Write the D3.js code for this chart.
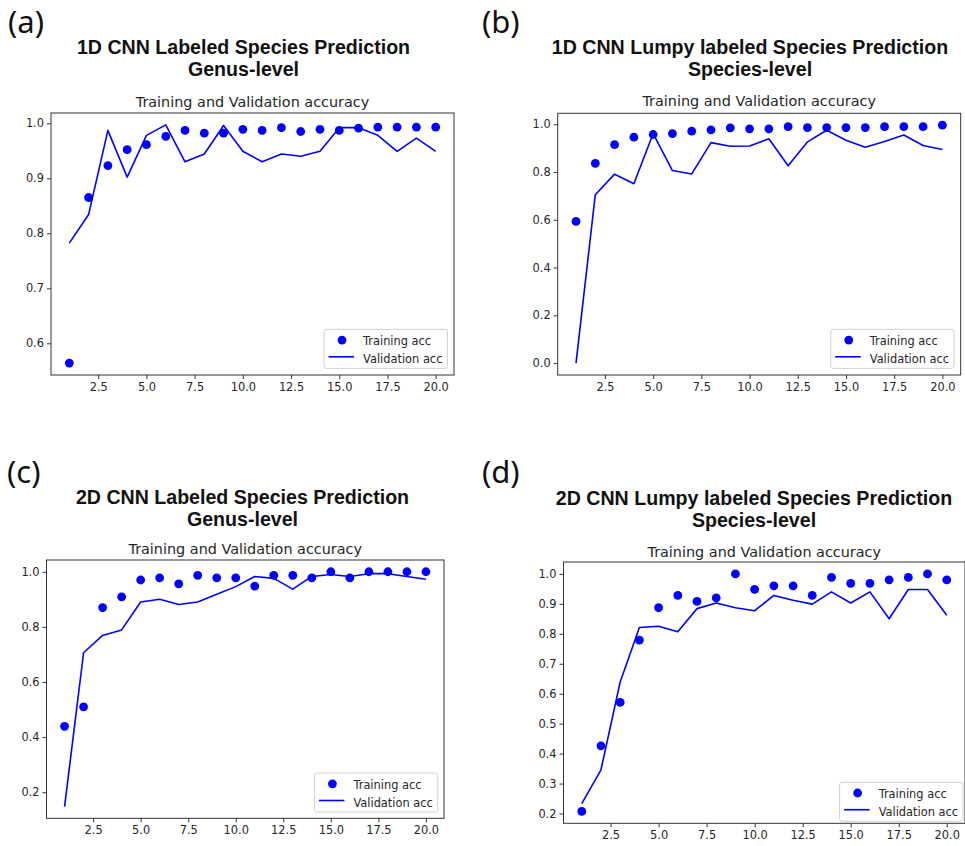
<!DOCTYPE html>
<html>
<head>
<meta charset="utf-8">
<script src="https://cdn.jsdelivr.net/npm/d3@7"></script>
<style>
	body { margin: 0; background: #fff; }
	svg text { font-family: "DejaVu Sans", sans-serif; }
	.axis text { font-size: 11.4px; fill: #262626; }
	.axis line { stroke: #333; }
	.title { font-family: "Liberation Sans", sans-serif !important; font-weight: bold; font-size: 19.6px; fill: #111; }
	.panel-label { font-family: "Noto Sans", sans-serif !important; font-size: 31px; fill: #111; }
</style>
</head>
<body>
<div id="chart-area"></div>
<script>

// Data
var epochs = [1, 2, 3, 4, 5, 6, 7, 8, 9, 10, 11, 12, 13, 14, 15, 16, 17, 18, 19, 20];

var trainA = [0.564, 0.865, 0.923, 0.952, 0.961, 0.976, 0.987, 0.982, 0.982, 0.989,
	0.987, 0.992, 0.985, 0.989, 0.987, 0.991, 0.993, 0.993, 0.993, 0.993];
var valA = [0.782, 0.834, 0.987, 0.902, 0.978, 0.997, 0.930, 0.944, 0.996, 0.949,
	0.930, 0.944, 0.940, 0.949, 0.992, 0.992, 0.978, 0.949, 0.973, 0.949];

var trainB = [0.593, 0.836, 0.915, 0.946, 0.957, 0.961, 0.971, 0.976, 0.985, 0.981,
	0.981, 0.990, 0.986, 0.986, 0.986, 0.986, 0.990, 0.990, 0.990, 0.996];
var valB = [0.0, 0.705, 0.791, 0.751, 0.961, 0.806, 0.792, 0.923, 0.908, 0.909,
	0.939, 0.826, 0.926, 0.975, 0.933, 0.904, 0.928, 0.955, 0.911, 0.894];

var trainC = [0.439, 0.510, 0.870, 0.909, 0.970, 0.978, 0.956, 0.987, 0.978, 0.978,
	0.948, 0.987, 0.987, 0.978, 1.0, 0.978, 1.0, 1.0, 1.0, 1.0];
var valC = [0.148, 0.706, 0.769, 0.789, 0.890, 0.900, 0.881, 0.890, 0.918, 0.946,
	0.983, 0.976, 0.937, 0.983, 0.990, 0.983, 0.993, 0.993, 0.983, 0.973];

var trainD = [0.207, 0.426, 0.571, 0.779, 0.887, 0.928, 0.908, 0.920, 1.0, 0.948,
	0.960, 0.960, 0.928, 0.988, 0.968, 0.968, 0.980, 0.988, 1.0, 0.980];
var valD = [0.233, 0.346, 0.639, 0.821, 0.825, 0.807, 0.884, 0.903, 0.887, 0.877,
	0.928, 0.912, 0.899, 0.940, 0.903, 0.940, 0.850, 0.948, 0.948, 0.862];

var xTicks = [2.5, 5, 7.5, 10, 12.5, 15, 17.5, 20];
var yTicksA = [0.6, 0.7, 0.8, 0.9, 1.0];
var yTicksB = [0.0, 0.2, 0.4, 0.6, 0.8, 1.0];
var yTicksC = [0.2, 0.4, 0.6, 0.8, 1.0];
var yTicksD = [0.2, 0.3, 0.4, 0.5, 0.6, 0.7, 0.8, 0.9, 1.0];

var panelLabels = ["(a)", "(b)", "(c)", "(d)"];
var titleLines = [
	["1D CNN Labeled Species Prediction", "Genus-level"],
	["1D CNN Lumpy labeled Species Prediction", "Species-level"],
	["2D CNN Labeled Species Prediction", "Genus-level"],
	["2D CNN Lumpy labeled Species Prediction", "Species-level"]
];
var subTitle = "Training and Validation accuracy";
var legendLabels = ["Training acc", "Validation acc"];


var svg = d3.select("#chart-area").append("svg")
	.attr("width", 965)
	.attr("height", 846);

// layout of each panel (pixel boxes of the axes)
var panels = [
	{train: trainA, val: valA, yTicks: yTicksA, box: {l: 51, r: 454, t: 113, b: 375},
		labelX: 8, labelY: 33, titleX: 243.5, titleY: 54, subY: 107.3, inset: 6.6},
	{train: trainB, val: valB, yTicks: yTicksB, box: {l: 557.7, r: 960.7, t: 113.3, b: 375},
		labelX: 482, labelY: 33, titleX: 750, titleY: 54, subY: 105.7, inset: 6.6},
	{train: trainC, val: valC, yTicks: yTicksC, box: {l: 46.5, r: 444, t: 560, b: 818.3},
		labelX: 7, labelY: 483, titleX: 242.5, titleY: 504, subY: 554.3, inset: 6.2},
	{train: trainD, val: valD, yTicks: yTicksD, box: {l: 563.5, r: 965, t: 562, b: 823.3},
		labelX: 482, labelY: 483, titleX: 754, titleY: 505, subY: 556.7, inset: 2}
];

panels.forEach(function(p, i) {
	drawPanel(p, i);
});

function drawPanel(p, i) {
	var g = svg.append("g");
	var box = p.box;

	// matplotlib style 5% margins
	var xMin = d3.min(epochs), xMax = d3.max(epochs);
	var xPad = (xMax - xMin) * 0.05;
	var all = p.train.concat(p.val);
	var yMin = d3.min(all), yMax = d3.max(all);
	var yPad = (yMax - yMin) * 0.05;

	var x = d3.scaleLinear()
		.domain([xMin - xPad, xMax + xPad])
		.range([box.l, box.r]);

	var y = d3.scaleLinear()
		.domain([yMin - yPad, yMax + yPad])
		.range([box.b, box.t]);

	// panel letter
	g.append("text")
		.attr("class", "panel-label")
		.attr("x", p.labelX)
		.attr("y", p.labelY)
		.text(panelLabels[i]);

	// bold two-line title
	titleLines[i].forEach(function(line, k) {
		g.append("text")
			.attr("class", "title")
			.attr("x", p.titleX)
			.attr("y", p.titleY + k * 22)
			.attr("text-anchor", "middle")
			.text(line);
	});

	g.append("text")
		.attr("x", (box.l + box.r) / 2)
		.attr("y", p.subY)
		.attr("text-anchor", "middle")
		.style("font-size", "14.4px")
		.style("fill", "#262626")
		.text(subTitle);

	var xAxis = d3.axisBottom(x)
		.tickValues(xTicks)
		.tickFormat(d3.format(".1f"))
		.tickSize(4)
		.tickPadding(4);

	var yAxis = d3.axisLeft(y)
		.tickValues(p.yTicks)
		.tickFormat(d3.format(".1f"))
		.tickSize(4)
		.tickPadding(3);

	g.append("g")
		.attr("class", "axis x-axis")
		.attr("transform", "translate(0," + box.b + ")")
		.call(xAxis)
		.call(function(s) { s.select(".domain").remove(); });

	g.append("g")
		.attr("class", "axis y-axis")
		.attr("transform", "translate(" + box.l + ",0)")
		.call(yAxis)
		.call(function(s) { s.select(".domain").remove(); });

	// validation line
	g.append("path")
		.datum(p.val)
		.attr("fill", "none")
		.attr("stroke", "#0000ff")
		.attr("stroke-width", 1.6)
		.attr("stroke-linejoin", "round")
		.attr("d", d3.line()
			.x(function(d, j) { return x(epochs[j]); })
			.y(function(d) { return y(d); }));

	// training dots
	g.selectAll(".train-dot")
		.data(p.train)
		.enter().append("circle")
		.attr("class", "train-dot")
		.attr("cx", function(d, j) { return x(epochs[j]); })
		.attr("cy", function(d) { return y(d); })
		.attr("r", 4.4)
		.attr("fill", "#0000ff");

	// frame
	g.append("rect")
		.attr("x", box.l)
		.attr("y", box.t)
		.attr("width", box.r - box.l)
		.attr("height", box.b - box.t)
		.attr("fill", "none")
		.attr("stroke", "#333")
		.attr("stroke-width", 1);

	// legend (lower right)
	var lg = g.append("g");
	var bg = lg.append("rect");
	var t1 = lg.append("text").attr("y", 15.7).attr("x", 39)
		.style("font-size", "11.4px").style("fill", "#262626").text(legendLabels[0]);
	var t2 = lg.append("text").attr("y", 34).attr("x", 39)
		.style("font-size", "11.4px").style("fill", "#262626").text(legendLabels[1]);
	var w = 39 + Math.max(t1.node().getComputedTextLength(), t2.node().getComputedTextLength()) + 5;
	var h = 39;
	bg.attr("width", w).attr("height", h)
		.attr("rx", 2.5)
		.attr("fill", "white")
		.attr("fill-opacity", 0.8)
		.attr("stroke", "#d0d0d0");
	lg.append("circle")
		.attr("cx", 18).attr("cy", 10.7).attr("r", 4.4)
		.attr("fill", "#0000ff");
	lg.append("line")
		.attr("x1", 4.5).attr("x2", 30)
		.attr("y1", 27.4).attr("y2", 27.4)
		.attr("stroke", "#0000ff")
		.attr("stroke-width", 1.6);
	lg.attr("transform", "translate(" + (box.r - p.inset - w) + "," + (box.b - p.inset - h) + ")");
}

</script>
</body>
</html>
